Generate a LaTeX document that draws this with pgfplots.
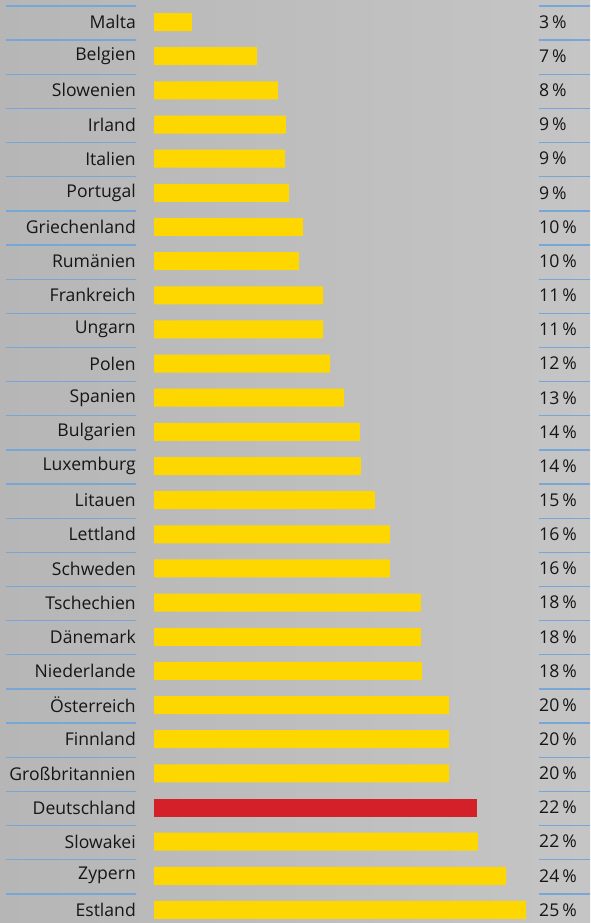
\documentclass[border=0pt]{standalone}
\usepackage{pgfplots}
\pgfplotsset{compat=1.18}
\usepackage{pgfplotstable}
\usepackage{fontspec}
\setmainfont{Open Sans}
\definecolor{barY}{RGB}{255,215,0}
\definecolor{barR}{RGB}{212,33,41}
\definecolor{lineB}{RGB}{120,166,214}
\definecolor{txt}{RGB}{22,22,22}

\pgfplotstableread{
idx val
0 2.55
1 6.92
2 8.33
3 8.87
4 8.80
5 9.07
6 10.01
7 9.74
8 11.36
9 11.36
10 11.83
11 12.77
12 13.84
13 13.91
14 14.85
15 15.86
16 15.86
17 17.94
18 17.94
19 18.01
20 19.83
21 19.83
22 19.83
24 21.77
25 23.66
26 25.00
}\yellowdata

\pgfplotsset{
  common/.style={
    at={(154pt,-0.6pt)}, anchor=south west,
    scale only axis, width=372pt, height=918.6pt,
    xmin=0, xmax=25, ymin=-0.5, ymax=26.4, y dir=reverse,
    axis line style={draw=none}, xtick=\empty,
    ytick={0,...,26}, tick style={draw=none},
    ticklabel style={font=\fontsize{17.6}{21}\selectfont, text=txt, inner sep=0pt},
    clip=false,
  }
}

\begin{document}
\begin{tikzpicture}[x=1pt,y=1pt]
\useasboundingbox (0,0) rectangle (590,923);
\shade[left color={rgb,255:red,182;green,182;blue,182}, right color={rgb,255:red,197;green,197;blue,197}] (0,0) rectangle (590,923);
\foreach \i in {0,...,26}{
  \draw[lineB, line width=1.3pt] (6,{917-34.15*\i}) -- (136,{917-34.15*\i});
  \draw[lineB, line width=1.3pt] (539,{917-34.15*\i}) -- (590,{917-34.15*\i});
}
\begin{axis}[common,
  yticklabels={Malta,Belgien,Slowenien,Irland,Italien,Portugal,Griechenland,Rumänien,Frankreich,Ungarn,Polen,Spanien,Bulgarien,Luxemburg,Litauen,Lettland,Schweden,Tschechien,Dänemark,Niederlande,Österreich,Finnland,Großbritannien,Deutschland,Slowakei,Zypern,Estland},
  yticklabel style={anchor=east, xshift=-18pt},
  /pgf/bar shift=0pt, bar width=18pt,
]
\addplot[xbar, fill=barY, draw=none] table[x=val, y=idx] {\yellowdata};
\addplot[xbar, fill=barR, draw=none] coordinates {(21.71,23)};
\end{axis}
\begin{axis}[common,
  yticklabel pos=right,
  yticklabels={3\,\%,7\,\%,8\,\%,9\,\%,9\,\%,9\,\%,10\,\%,10\,\%,11\,\%,11\,\%,12\,\%,13\,\%,14\,\%,14\,\%,15\,\%,16\,\%,16\,\%,18\,\%,18\,\%,18\,\%,20\,\%,20\,\%,20\,\%,22\,\%,22\,\%,24\,\%,25\,\%},
  yticklabel style={anchor=west, xshift=13pt},
]
\end{axis}
\end{tikzpicture}
\end{document}
